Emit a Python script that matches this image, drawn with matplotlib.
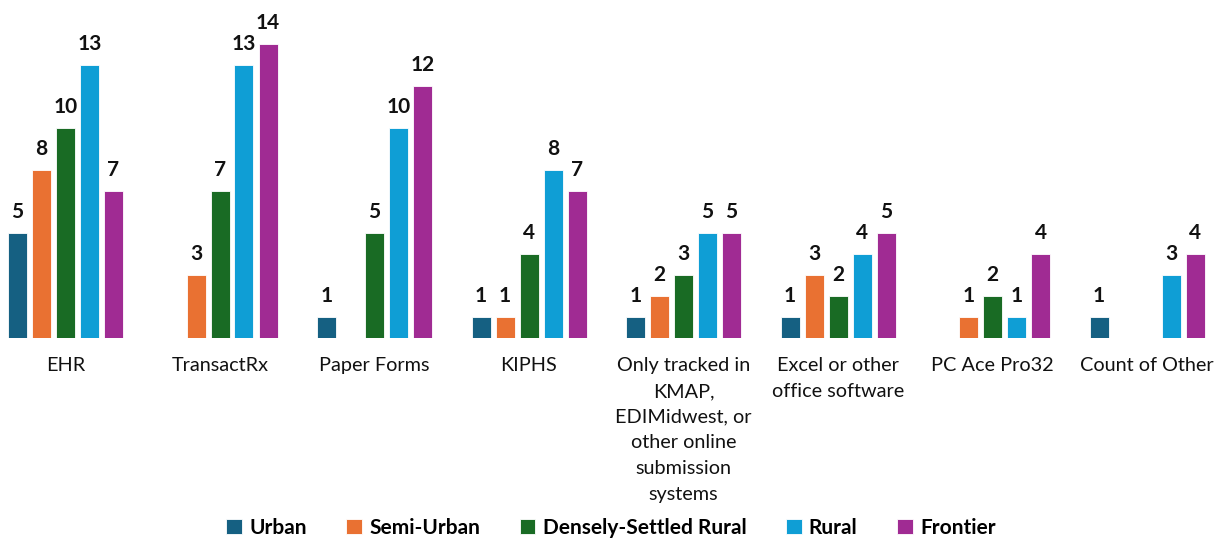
import numpy as np
import matplotlib
matplotlib.use("Agg")
import matplotlib.pyplot as plt

categories = ["EHR", "TransactRx", "Paper Forms", "KIPHS",
              "Only tracked in\nKMAP,\nEDIMidwest, or\nother online\nsubmission\nsystems",
              "Excel or other\noffice software", "PC Ace Pro32", "Count of Other"]
series_names = ["Urban", "Semi-Urban", "Densely-Settled Rural", "Rural", "Frontier"]
urban = [5, None, 1, 1, 1, 1, None, 1]
semi_urban = [8, 3, None, 1, 2, 3, 1, None]
densely_rural = [10, 7, 5, 4, 3, 2, 2, None]
rural = [13, 13, 10, 8, 5, 4, 1, 3]
frontier = [7, 14, 12, 7, 5, 5, 4, 4]
colors = ["#156082", "#E97132", "#196B24", "#0F9ED5", "#A02B93"]

plt.rcParams['font.family'] = ['Lato', 'DejaVu Sans']

fig = plt.figure(figsize=(12.17, 5.40), dpi=100)
W, H = 1217, 540
base_px = 338
unit_px = 21.0
ymax = 15
ax = fig.add_axes([0, (H - base_px) / H, 1, ymax * unit_px / H])

x = np.arange(len(categories))
gc0, gstep = 65.5, 154.5
ax.set_xlim(-gc0 / gstep, (W - gc0) / gstep)
ax.set_ylim(0, ymax)

bw = 19 / gstep
step = 24 / gstep
all_series = [urban, semi_urban, densely_rural, rural, frontier]
handles = []
for i, (vals, name, c) in enumerate(zip(all_series, series_names, colors)):
    v = np.array([np.nan if a is None else a for a in vals], dtype=float)
    pos = x + (i - 2) * step
    bars = ax.bar(pos, np.nan_to_num(v), width=bw, color=c, edgecolor="white",
                  linewidth=0.6, label=name)
    handles.append(bars)
    for p, val in zip(pos, v):
        if not np.isnan(val):
            ax.annotate(f"{int(val)}", (p, val), xytext=(0, 8), textcoords="offset points",
                        ha="center", va="bottom", fontsize=15, fontweight="bold",
                        color="#111111")

ax.set_xticks(x)
ax.set_xticklabels(categories, fontsize=14.3, color="#111111", linespacing=1.62,
                   va="top")
ax.tick_params(axis="x", length=0, pad=14)
ax.set_yticks([])
for s in ax.spines.values():
    s.set_visible(False)

fig.legend(handles=handles, labels=series_names, loc="center",
           bbox_to_anchor=(611 / W, 1 - 528 / H), ncol=5, frameon=False,
           prop={"weight": "bold", "size": 15}, handlelength=0.75, handleheight=0.75,
           handletextpad=0.35, columnspacing=1.9)

fig.savefig("out.png", dpi=100)
